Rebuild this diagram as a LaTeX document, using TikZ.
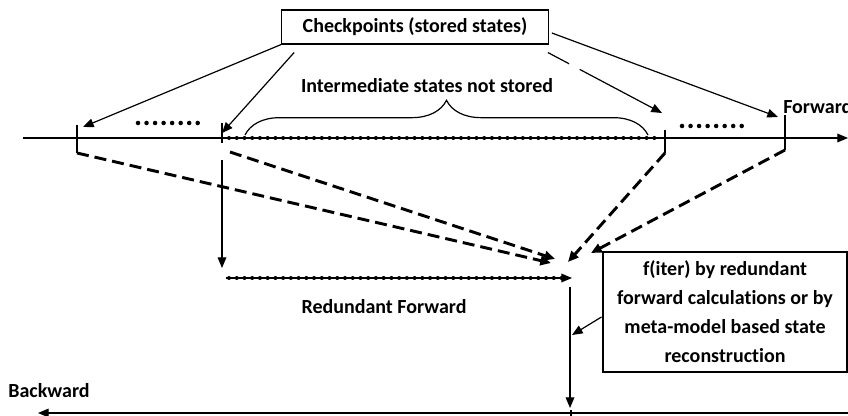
\documentclass[tikz,border=0pt]{standalone}
\usepackage{fontspec}
\setmainfont{Carlito}[Ligatures={NoCommon}]
\usetikzlibrary{arrows.meta, decorations.pathreplacing}

\begin{document}
\begin{tikzpicture}[
    x=0.75pt, y=-0.75pt,
    lbl/.style={font=\bfseries\fontsize{15}{21.75}\selectfont, inner sep=0pt},
    box/.style={lbl, draw, line width=0.8pt, align=center},
    thin/.style={line width=0.9pt},
    pointer/.style={thin, -{Triangle[length=8pt, width=6.5pt]}},
    recall/.style={line width=2.2pt, dash pattern=on 9pt off 4.5pt,
                   -{Triangle[length=8pt, width=7pt]}},
    beads/.style={line width=3pt, dash pattern=on 0pt off 5.8pt, line cap=round},
    gapdots/.style={line width=3.4pt, dash pattern=on 0pt off 6.4pt, line cap=round},
]
\useasboundingbox (0,0) rectangle (848,416);

% forward time axis with checkpoint ticks
\coordinate (fstart) at (23,138);
\coordinate (fend) at (848,138);
\draw[pointer] (fstart) -- (fend);
\node[lbl, anchor=west] (fwd) at (783,107) {Forward};
\coordinate (t1a) at (77,125);  \coordinate (t1b) at (77,153);
\coordinate (t2a) at (222,123); \coordinate (t2b) at (222,143);
\coordinate (t3a) at (665,130); \coordinate (t3b) at (665,153);
\coordinate (t4a) at (785,115); \coordinate (t4b) at (785,150);
\foreach \t in {1,...,4}
    \draw[thin] (t\t a) -- (t\t b);
\draw[beads] (229,138) -- (662,138);
\draw[gapdots] (138,123) -- (199,123);
\draw[gapdots] (682,126) -- (742,126);

% intermediate states
\draw[thin, decorate, decoration={brace, amplitude=26pt}] (245,135) -- (648,135);
\node[lbl] (inter) at (427,86) {Intermediate states not stored};

% checkpoints
\node[box, minimum width=200pt, minimum height=25.5pt] (ckpt) at (415,27)
    {Checkpoints (stored states)};
\coordinate (p1) at (83,127);
\coordinate (p2) at (222,133);
\coordinate (p3) at (662,113);
\coordinate (p4) at (778,117);
\draw[pointer] (ckpt.south west) -- (p1);
\draw[pointer] ([shift={(13,8)}]ckpt.south west) -- (p2);
\draw[pointer, dash pattern=on 18pt off 9pt on 200pt off 1pt]
    ([shift={(-1,8)}]ckpt.south east) -- (p3);
\draw[pointer] ([shift={(3,6)}]ckpt.east) -- (p4);

% recall of the stored states
\coordinate (t2c) at (230,152);
\coordinate (r1) at (551,263);
\coordinate (r2) at (555,259);
\coordinate (r3) at (568,262);
\coordinate (r4) at (591,253);
\draw[recall] (t1b) -- (r1);
\draw[recall] (t2c) -- (r2);
\draw[recall] (t3b) -- (r3);
\draw[recall] (t4b) -- (r4);

% redundant forward
\coordinate (v1a) at (222,160);
\coordinate (v1b) at (222,268);
\draw[pointer] (v1a) -- (v1b);
\coordinate (rfa) at (226,278);
\coordinate (rfb) at (572,278);
\draw[pointer] (rfa) -- (rfb);
\draw[beads] (229,278) -- (563,278);
\node[lbl] (redund) at (384,307) {Redundant Forward};

% backward time axis
\coordinate (v2a) at (570,287);
\coordinate (v2b) at (570,408);
\coordinate (v2m) at (572,335);
\draw[pointer] (v2a) -- (v2b);
\coordinate (bstart) at (848,413);
\coordinate (bend) at (38,413);
\draw[pointer] (bstart) -- (bend);
\draw[thin] (571,410) -- (571,416);
\node[lbl] (bwd) at (49,391) {Backward};

\node[box, minimum width=183pt, minimum height=90pt] (fiter) at (725,312)
    {f(iter) by redundant\\forward calculations or by\\meta-model based state\\reconstruction};
\draw[pointer] ([shift={(-1,5)}]fiter.west) -- (v2m);
\end{tikzpicture}
\end{document}
